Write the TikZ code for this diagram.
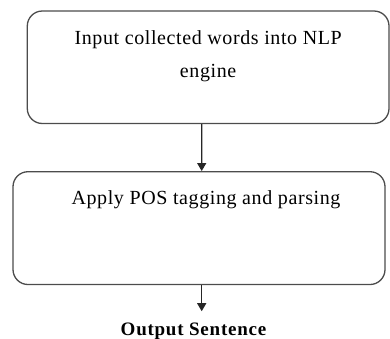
\documentclass[tikz,border=0pt]{standalone}
\usepackage{fontspec}
\setmainfont{Liberation Serif}
\newfontfamily\boxfont[LetterSpace=3]{Liberation Serif}
\newfontfamily\outfont[LetterSpace=4]{Liberation Serif}
\usetikzlibrary{arrows.meta}
\tikzset{
  box/.style={draw=black!70, line width=1.3pt, rounded corners=15pt, inner sep=0pt},
  arr/.style={draw=black!85, line width=1.3pt, -{Triangle[width=9pt,length=8pt]}},
  outtext/.style={inner xsep=2pt, inner ysep=11pt, font=\outfont\bfseries\fontsize{19}{22}\selectfont}
}
\begin{document}
\begin{tikzpicture}[x=1pt,y=-1pt]
\useasboundingbox (0,0) rectangle (390,338);
\node[box, minimum width=361.7pt, minimum height=112.5pt] (b1) at (208.15,67.25)
  {\parbox[c][112.5pt][t]{340pt}{\boxfont\fontsize{20}{33}\selectfont\centering
   \rule{0pt}{33pt}Input collected words into NLP\\ engine}};
\node[box, minimum width=372pt, minimum height=112.8pt] (b2) at (199,228.1)
  {\parbox[c][112.8pt][t]{350pt}{\boxfont\fontsize{20}{33}\selectfont\centering
   \rule{0pt}{32.3pt}\hspace*{14pt}Apply POS tagging and parsing}};
\node[outtext, anchor=base] (out) at (193.5,335) {Output Sentence};
\draw[arr] ([xshift=-6.5pt]b1.south) -- ([xshift=2.7pt]b2.north);
\draw[arr] ([xshift=2.7pt]b2.south) -- ([xshift=2.7pt]b2.south |- out.north);
\end{tikzpicture}
\end{document}
